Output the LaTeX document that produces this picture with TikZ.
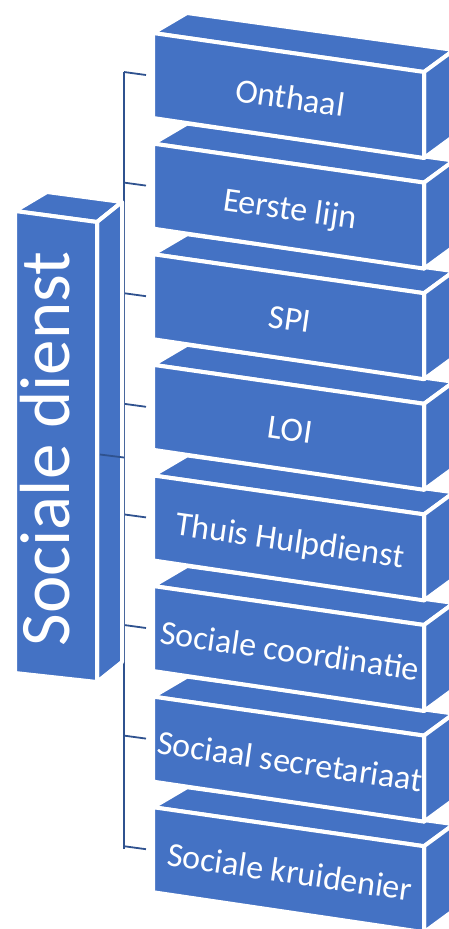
\documentclass[tikz,border=0pt]{standalone}
\usepackage{fontspec}
\setmainfont{Carlito}
\definecolor{boxblue}{HTML}{4472C4}
\definecolor{linkblue}{HTML}{2F528F}
\begin{document}
\begin{tikzpicture}[x=1pt,y=-1pt,
  face/.style={fill=boxblue,draw=white,line width=4pt,line join=round},
  lbl/.style={text=white,font=\fontsize{34}{40}\selectfont,rotate=-8.2,inner sep=0pt,anchor=base},
  biglbl/.style={text=white,font=\fontsize{71}{76}\selectfont,rotate=90,inner sep=0pt,anchor=base},
  link/.style={draw=linkblue,line width=1.8pt}]
\useasboundingbox (0,0) rectangle (449,929);
\clip (0,0) rectangle (449,929);
% connectors (spine)
\coordinate (j0) at (124,72);
\coordinate (j7) at (124,849.2);
\draw[link] (j0) -- (j7);
% stacked boxes, bottom first
\foreach \i/\t in {7/Sociale kruidenier,6/Sociaal secretariaat,5/Sociale coordinatie,4/Thuis Hulpdienst,3/LOI,2/SPI,1/Eerste lijn,0/Onthaal}{
  \pgfmathsetmacro{\yo}{110.6*\i}
  \coordinate (b\i-ftl) at (153,{33+\yo});
  \coordinate (b\i-ftr) at (424,{72+\yo});
  \coordinate (b\i-fbr) at (424,{158+\yo});
  \coordinate (b\i-fbl) at (153,{118+\yo});
  \coordinate (b\i-btl) at (187,{13+\yo});
  \coordinate (b\i-btr) at (454,{50+\yo});
  \coordinate (b\i-bbr) at (454,{136+\yo});
  \coordinate (j\i) at (124,{72+\yo});
  \coordinate (e\i) at (146,{75+\yo});
  \draw[link] (j\i) -- (e\i);
  \path[face] (b\i-ftl) -- (b\i-ftr) -- (b\i-btr) -- (b\i-btl) -- cycle;
  \path[face] (b\i-ftr) -- (b\i-fbr) -- (b\i-bbr) -- (b\i-btr) -- cycle;
  \path[face] (b\i-ftl) -- (b\i-ftr) -- (b\i-fbr) -- (b\i-fbl) -- cycle;
  \node[lbl] (n\i) at (288.5,{109+\yo}) {\t};
}
% left box
\coordinate (l-ftl) at (15,211);
\coordinate (l-ftr) at (97,222);
\coordinate (l-fbr) at (97,682);
\coordinate (l-fbl) at (15,673);
\coordinate (l-btl) at (47,192);
\coordinate (l-btr) at (122,202);
\coordinate (l-bbr) at (122,662);
\path[face] (l-ftl) -- (l-ftr) -- (l-btr) -- (l-btl) -- cycle;
\path[face] (l-ftr) -- (l-fbr) -- (l-bbr) -- (l-btr) -- cycle;
\path[face] (l-ftl) -- (l-ftr) -- (l-fbr) -- (l-fbl) -- cycle;
\node[biglbl] (root) at (69,449) {Sociale dienst};
\coordinate (hub) at (100,454.5);
\coordinate (spine) at (124,457.5);
\draw[link] (hub) -- (spine);
\end{tikzpicture}
\end{document}
